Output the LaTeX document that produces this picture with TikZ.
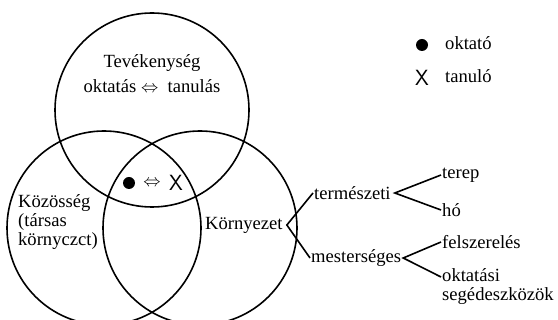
\documentclass[tikz,border=0pt]{standalone}
\usepackage{fontspec}
\setmainfont{Liberation Serif}
\usepackage{amsmath,amssymb}
\usetikzlibrary{positioning}

\begin{document}
\begin{tikzpicture}[
    x=1pt, y=-1pt,
    ring/.style={line width=1.6pt},
    lbl/.style={font=\fontsize{18.6}{19}\selectfont, inner sep=1pt},
    dot/.style={circle, fill=black, inner sep=0pt, minimum size=12pt},
    xmark/.style={font=\sffamily\fontsize{22}{22}\selectfont, inner sep=0pt},
    branch/.style={line width=1.6pt}
]
\useasboundingbox (0,0) rectangle (558,320);
\clip (0,0) rectangle (558,320);

% Circle centres
\coordinate (cact) at (152,110);
\coordinate (ccom) at (104,228);
\coordinate (cenv) at (200,228);

% Circles
\draw[ring] (cact) circle (97pt);
\draw[ring] (ccom) circle (97pt);
\draw[ring] (cenv) circle (97pt);

% Top circle text
\node[lbl] (tev) at (152,63) {Tevékenység};
\node[lbl] (okt) at (152,86) {oktatás $\Leftrightarrow$\ \ tanulás};

% Common part
\node[dot] (tdot) at (129,183) {};
\node[lbl] (tarr) at (152,183) {$\Leftrightarrow$};
\node[xmark] (tx) at (176,183) {X};

% Legend
\node[dot] (ldot) at (422,45) {};
\node[lbl, anchor=west] (loktato) at (444,43) {oktató};
\node[xmark] (lx) at (422,78) {X};
\node[lbl, anchor=west] (ltanulo) at (444,76) {tanuló};

% Left circle text
\node[lbl, anchor=north west, align=left] (koz) at (17,193) {Közösség\\(társas\\környczct)};

% Right circle and its branches
\node[lbl, anchor=west] (korny) at (204,225) {Környezet};
\coordinate[right=3pt of korny] (kv);
\node[lbl, anchor=west] (term) at (313,193) {természeti};
\node[lbl, anchor=west] (mest) at (310,258) {mesterséges};
\draw[branch] (term.west) -- (kv) -- (mest.west);

\node[lbl, anchor=west] (terep) at (441,175) {terep};
\node[lbl, anchor=west] (ho) at (441,210) {hó};
\coordinate[right=3pt of term] (tv);
\draw[branch] (terep.west) -- (tv) -- (ho.west);

\node[lbl, anchor=west] (felsz) at (441,242) {felszerelés};
\node[lbl, anchor=north west, align=left] (okseg) at (441,267) {oktatási\\segédeszközök};
\coordinate[right=1pt of mest] (mv);
\draw[branch] (felsz.west) -- (mv) -- ([yshift=-10pt]okseg.north west);

\end{tikzpicture}
\end{document}
